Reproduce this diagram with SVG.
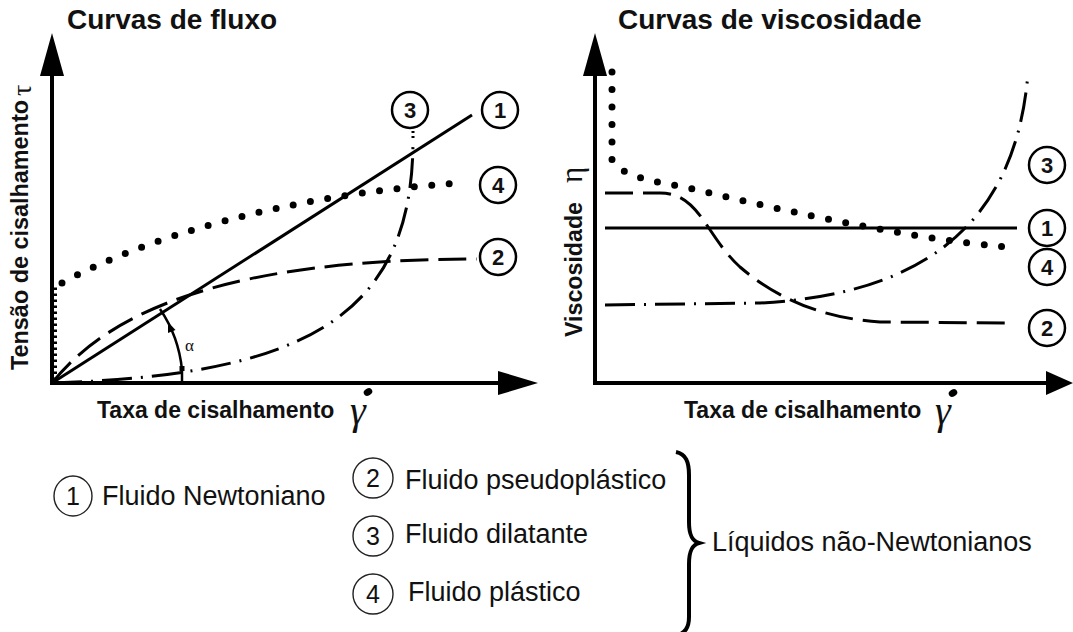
<svg xmlns="http://www.w3.org/2000/svg" width="1073" height="632" viewBox="0 0 1073 632">
<style>
.title{font-family:"Liberation Sans",Arial,sans-serif;font-weight:bold;font-size:28px;fill:#111}
.axl{font-family:"Liberation Sans",Arial,sans-serif;font-weight:bold;font-size:23px;fill:#111}
.sym{font-family:"Liberation Serif","Times New Roman",serif;fill:#111}
.num{font-family:"Liberation Sans",Arial,sans-serif;font-weight:bold;font-size:22px;fill:#111;text-anchor:middle}
.leg{font-family:"Liberation Sans",Arial,sans-serif;font-size:27px;fill:#111}
.legnum{font-family:"Liberation Sans",Arial,sans-serif;font-size:25px;fill:#111;text-anchor:middle}
.axis{stroke:#000;stroke-width:4;fill:none}
.head{fill:#000}
.c1{stroke:#000;stroke-width:3;fill:none}
.c2{stroke:#000;stroke-width:3;fill:none;stroke-dasharray:28 10}
.c3{stroke:#000;stroke-width:3;fill:none;stroke-dasharray:30 9 2 9}
.c4{stroke:#000;stroke-width:7;fill:none;stroke-dasharray:0 17.5;stroke-linecap:round}
.ring{fill:#fff;stroke:#000;stroke-width:2.5}
.lring{fill:none;stroke:#222;stroke-width:1.4}
</style>
<rect width="1073" height="632" fill="#fff"/>

<!-- Left chart -->
<g id="chart-flow">
  <text class="title" x="67" y="29">Curvas de fluxo</text>
  <g id="flow-axes">
    <line class="axis" x1="52" y1="385" x2="52" y2="74"/>
    <polygon class="head" points="52,33 40,76 64,76"/>
    <line class="axis" x1="50" y1="383" x2="500" y2="383"/>
    <polygon class="head" points="538,383 498,371 498,395"/>
    <text class="axl" transform="translate(28,370) rotate(-90)" textLength="270" lengthAdjust="spacingAndGlyphs">Tensão de cisalhamento</text>
    <text class="sym" font-size="28" transform="translate(31,96) rotate(-90)">τ</text>
    <text class="axl" x="97" y="418">Taxa de cisalhamento</text>
    <text class="sym" font-size="40" font-style="italic" x="350" y="424">γ</text>
    <ellipse cx="368" cy="392" rx="4.5" ry="3.5" transform="rotate(-30 368 392)" fill="#000"/>
  </g>
  <g id="flow-curves">
    <line class="c1" x1="52" y1="383" x2="472" y2="115"/>
    <path class="c2" d="M52,383 C110,310 230,259 477,259"/>
    <path class="c3" d="M52,383 C300,375 413,320 413,140"/>
    <line x1="413" y1="138" x2="413" y2="128" stroke="#000" stroke-width="3" stroke-dasharray="2 3"/>
    <path class="c4" d="M62,283 C140,240 280,195 460,183"/>
    <line x1="55" y1="380" x2="55" y2="287" stroke="#000" stroke-width="4" stroke-dasharray="2.5 3.5"/>
    <path d="M182,370 A131,131 0 0 0 160,309" fill="none" stroke="#000" stroke-width="2.5"/>
    <polygon class="head" points="168,322 175.5,330 168,333"/>
    <line x1="182" y1="368" x2="182" y2="383" stroke="#000" stroke-width="2.5"/>
    <rect x="179.5" y="366" width="5" height="5" fill="#000"/>
    <text class="sym" font-size="17" x="185" y="351">α</text>
  </g>
  <g id="flow-label-3"><circle class="ring" cx="410" cy="110" r="18"/><text class="num" x="410" y="118">3</text></g>
  <g id="flow-label-1"><circle class="ring" cx="500" cy="110" r="18"/><text class="num" x="500" y="118">1</text></g>
  <g id="flow-label-4"><circle class="ring" cx="498" cy="185" r="18"/><text class="num" x="498" y="193">4</text></g>
  <g id="flow-label-2"><circle class="ring" cx="498" cy="257" r="18"/><text class="num" x="498" y="265">2</text></g>
</g>

<!-- Right chart -->
<g id="chart-viscosity">
  <text class="title" x="618" y="29">Curvas de viscosidade</text>
  <g id="visc-axes">
    <line class="axis" x1="595" y1="385" x2="595" y2="74"/>
    <polygon class="head" points="595,33 583,76 607,76"/>
    <line class="axis" x1="593" y1="383" x2="1050" y2="383"/>
    <polygon class="head" points="1073,383 1046,371 1046,395"/>
    <text class="axl" transform="translate(582,337) rotate(-90)" textLength="135" lengthAdjust="spacingAndGlyphs">Viscosidade</text>
    <text class="sym" font-size="31" transform="translate(582,183) rotate(-90)">η</text>
    <text class="axl" x="684" y="418">Taxa de cisalhamento</text>
    <text class="sym" font-size="40" font-style="italic" x="935" y="424">γ</text>
    <ellipse cx="953" cy="393" rx="4.5" ry="3.5" transform="rotate(-30 953 393)" fill="#000"/>
  </g>
  <g id="visc-curves">
    <line class="c1" x1="605" y1="228" x2="1017" y2="228"/>
    <path class="c2" d="M605,193 L660,193 C700,193 705,235 740,267 C775,297 820,318 880,322 L1013,323"/>
    <path class="c3" d="M605,305 L760,303 C910,295 1015,235 1028,73"/>
    <path class="c4" d="M612,72 L612,160 C618,172 640,180 680,186 C760,205 900,238 1007,247"/>
  </g>
  <g id="visc-label-3"><circle class="ring" cx="1047" cy="165" r="18"/><text class="num" x="1047" y="173">3</text></g>
  <g id="visc-label-1"><circle class="ring" cx="1047" cy="228" r="18"/><text class="num" x="1047" y="236">1</text></g>
  <g id="visc-label-4"><circle class="ring" cx="1047" cy="267" r="18"/><text class="num" x="1047" y="275">4</text></g>
  <g id="visc-label-2"><circle class="ring" cx="1047" cy="328" r="18"/><text class="num" x="1047" y="336">2</text></g>
</g>

<!-- Legend -->
<g id="legend">
  <g id="legend-1"><ellipse class="lring" cx="73" cy="496" rx="19" ry="20"/><text class="legnum" x="73" y="505">1</text><text class="leg" x="102" y="505">Fluido Newtoniano</text></g>
  <g id="legend-2"><circle class="lring" cx="373" cy="478" r="20"/><text class="legnum" x="373" y="487">2</text><text class="leg" x="405" y="489">Fluido pseudoplástico</text></g>
  <g id="legend-3"><circle class="lring" cx="373" cy="536" r="20"/><text class="legnum" x="373" y="545">3</text><text class="leg" x="405" y="543">Fluido dilatante</text></g>
  <g id="legend-4"><circle class="lring" cx="373" cy="594" r="20"/><text class="legnum" x="373" y="603">4</text><text class="leg" x="408" y="601">Fluido plástico</text></g>
  <g id="legend-group">
    <path d="M676,452 C686,454 689,462 689,475 L689,522 C689,535 692,541 699,543 C692,545 689,551 689,564 L689,617 C689,628 685,633 676,636" fill="none" stroke="#000" stroke-width="4"/>
    <text class="leg" x="712" y="551">Líquidos não-Newtonianos</text>
  </g>
</g>
</svg>
